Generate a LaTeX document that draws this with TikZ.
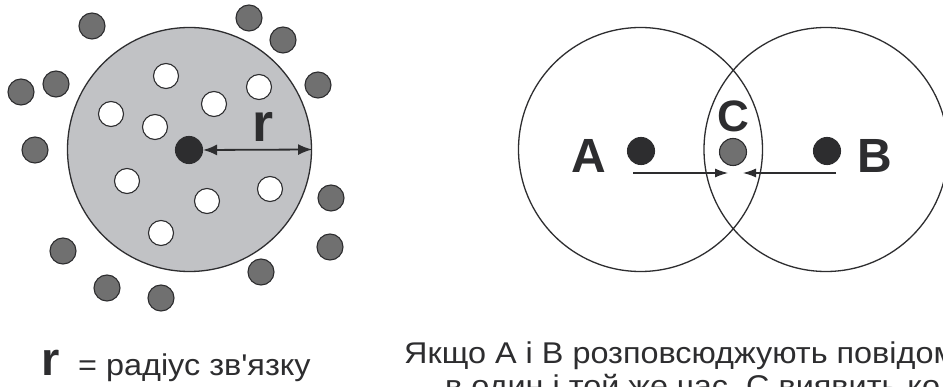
\documentclass[tikz,border=0pt]{standalone}
\usepackage{fontspec}
\setmainfont{Liberation Sans}[Ligatures=TeXOff]
\newfontfamily\wideSans{Liberation Sans}[Ligatures=TeXOff,FakeStretch=1.08]
\usetikzlibrary{arrows.meta}
\definecolor{zonegray}{RGB}{193,194,197}
\definecolor{nodegray}{RGB}{112,112,112}
\definecolor{inkdark}{RGB}{45,45,47}
\begin{document}
\begin{tikzpicture}[x=1pt,y=-1pt,
  stn/.style={circle,draw=inkdark,line width=1.1pt,minimum size=26pt,inner sep=0pt},
  stnout/.style={stn,fill=nodegray},
  stnin/.style={stn,fill=white,minimum size=25pt},
  stnhub/.style={stn,fill=inkdark,minimum size=27pt},
  rangecircle/.style={circle,draw=inkdark,line width=1.3pt,minimum size=244pt,inner sep=0pt},
  msgarrow/.style={-{Latex[length=13pt,width=9pt]},line width=1.2pt,draw=inkdark},
  radiusarrow/.style={{Latex[length=14pt,width=11pt]}-{Latex[length=14pt,width=11pt]},line width=1.8pt,draw=inkdark},
  captiontext/.style={font=\wideSans\fontsize{30}{33}\selectfont,text=inkdark,inner sep=0pt},
  bigletter/.style={font=\fontsize{48}{48}\selectfont\bfseries,text=inkdark,inner sep=0pt},
]
\useasboundingbox (0,0) rectangle (943,387);
\clip (0,0) rectangle (943,387);
\fill[white] (0,0) rectangle (943,387);

% ---- transmission range of a single station ----
\node[rangecircle,fill=zonegray] (zone) at (189.5,149.5) {};
\node[stnhub] (ctr) at (189,150) {};
\draw[radiusarrow] (ctr.east) -- (zone.east);
\node[bigletter,font=\fontsize{54}{54}\selectfont\bfseries] (rlbl) at (263,127) {r};

% stations inside the range
\foreach \n/\x/\y in {i1/166/76, i2/259/87, i3/214/104, i4/111/114, i5/155/127,
                      i6/127/181, i7/270/189, i8/207/201, i9/161/233}
  \node[stnin] (\n) at (\x,\y) {};

% stations outside the range
\foreach \n/\x/\y in {o1/92/26, o2/249/18, o3/283/40, o4/318/85, o5/56/84,
                      o6/21/92, o7/35/150, o8/331/198, o9/330/247, o10/63/251,
                      o11/261/272, o12/107/288, o13/161/298}
  \node[stnout] (\n) at (\x,\y) {};

% ---- hidden station scenario ----
\node[rangecircle] (rangeA) at (640.5,149.5) {};
\node[rangecircle] (rangeB) at (826,149.5) {};
\node[stnhub] (stA) at (641,151) {};
\node[stn,fill=nodegray,minimum size=27pt] (stC) at (733,152) {};
\node[stnhub] (stB) at (827,151) {};
\node[bigletter] (lblA) at (589,156) {A};
\node[bigletter] (lblB) at (875,156) {B};
\node[bigletter,font=\fontsize{44}{44}\selectfont\bfseries] (lblC) at (733,116) {C};

\coordinate (fromA) at (633,173);
\coordinate (toCa) at (728,173);
\coordinate (fromB) at (836,173);
\coordinate (toCb) at (743,173);
\draw[msgarrow] (fromA) -- (toCa);
\draw[msgarrow] (fromB) -- (toCb);

% ---- captions ----
\node[anchor=base west,inner sep=0pt,text=inkdark,font=\fontsize{47}{47}\selectfont\bfseries] (rkey) at (41,376) {r};
\node[captiontext,anchor=base west] (rdef) at (78,376) {= радіус зв'язку};
\node[captiontext,anchor=base west] (note1) at (404,364) {Якщо A і B розповсюджують повідомлення};
\node[captiontext,anchor=base west] (note2) at (445,397) {в один і той же час, C виявить колізію.};
\end{tikzpicture}
\end{document}
